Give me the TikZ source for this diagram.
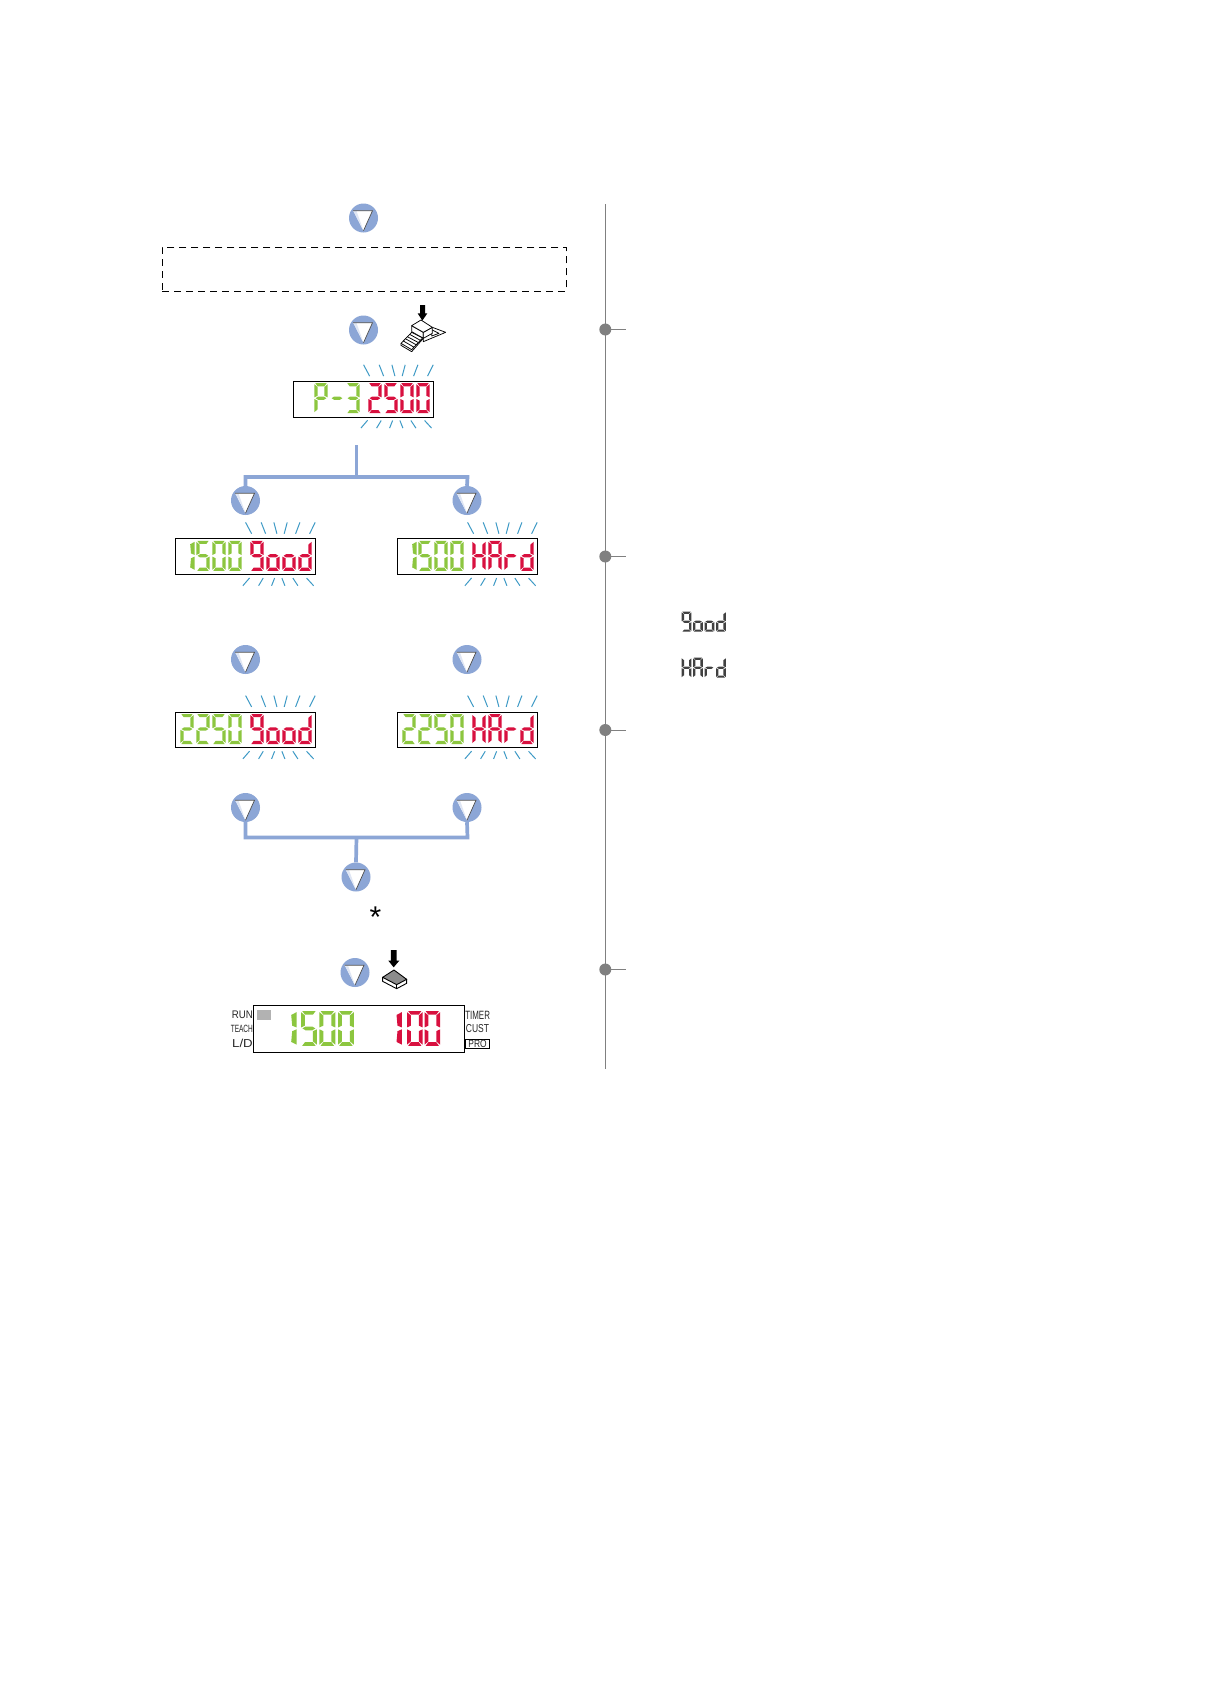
\documentclass[tikz,border=0pt]{standalone}
\usepackage{fontspec}
\setmainfont{Liberation Sans}
\definecolor{mblue}{HTML}{8CA6D6}
\definecolor{lgreen}{HTML}{8CC63F}
\definecolor{lred}{HTML}{D8103F}
\definecolor{rayc}{HTML}{3E9AC6}
\definecolor{vgray}{HTML}{808080}
\tikzset{
 sga/.style={insert path={(1,0)--(12,0)--(9.8,3.1)--(3.2,3.1)--cycle}},
 sgd/.style={insert path={(1,30)--(12,30)--(9.8,26.9)--(3.2,26.9)--cycle}},
 sgf/.style={insert path={(0,1)--(3.2,3.8)--(3.2,12.6)--(0,14.2)--cycle}},
 sge/.style={insert path={(0,15.8)--(3.2,17.4)--(3.2,26.2)--(0,29)--cycle}},
 sgb/.style={insert path={(13,1)--(9.8,3.8)--(9.8,12.6)--(13,14.2)--cycle}},
 sgc/.style={insert path={(13,15.8)--(9.8,17.4)--(9.8,26.2)--(13,29)--cycle}},
 sgg/.style={insert path={(1.2,15)--(3.7,13.4)--(9.3,13.4)--(11.8,15)--(9.3,16.6)--(3.7,16.6)--cycle}},
 sgp/.style={insert path={(14,1)--(9.6,3.4)--(10.4,12.6)--(14,14.2)--cycle}},
 sgq/.style={insert path={(14,15.8)--(10.4,17.4)--(9.6,26.6)--(14,29)--cycle}},
 sgn/.style={},
 marker/.style={circle,fill=mblue,minimum size=29pt,inner sep=0pt},
 lcdbox/.style={draw=black,line width=1pt,rectangle,inner sep=0pt,anchor=north west,fill=white},
 ray/.style={draw=rayc,line width=1pt},
 link/.style={draw=mblue,line width=3.7pt,line join=miter},
 lbl/.style={inner sep=0pt,text=black!85},
 pics/tri/.style={code={
   \fill[white] (-10.3,-7.3)--(9,-7.3)--(0,12.7)--cycle;
   \fill[mblue!28] (-10.3,-7.3)--(-7,-7)--(0,12.7)--cycle;
   \draw[black!70,line width=.7pt] (-10.3,-7.3)--(9,-7.3)--(0,12.7);
 }}
}
\expandafter\def\csname ch0\endcsname{a,b,c,d,e,f}
\expandafter\def\csname ch1\endcsname{p,q}
\expandafter\def\csname ch2\endcsname{a,b,d,e,g}
\expandafter\def\csname ch3\endcsname{a,b,c,d,g}
\expandafter\def\csname ch5\endcsname{a,c,d,f,g}
\expandafter\def\csname ch9\endcsname{a,b,c,d,f,g}
\expandafter\def\csname chP\endcsname{a,b,e,f,g}
\expandafter\def\csname ch-\endcsname{g}
\expandafter\def\csname chH\endcsname{b,c,e,f,g}
\expandafter\def\csname chA\endcsname{a,b,c,e,f,g}
\expandafter\def\csname chr\endcsname{e,g}
\expandafter\def\csname chd\endcsname{b,c,d,e,g}
\expandafter\def\csname cho\endcsname{c,d,e,g}
\expandafter\def\csname chx\endcsname{n}
\newcommand\dgt[6]{%
 \begin{scope}[shift={(#1,#2)},xscale=#3,yscale=#4]
  \edef\seglist{\csname ch#5\endcsname}
  \foreach \s in \seglist {\fill[#6,sg\s];}
 \end{scope}}
\newcommand\rays[2]{%
 \begin{scope}[shift={(#1,#2)}]
 \path[ray] (70.7,-16)--(76.7,-4.7) (86.3,-16)--(90.7,-4.7) (99,-16)--(102,-4.7)
  (112.3,-16)--(109.3,-4.7) (125,-16)--(120.7,-4.7) (140.3,-16)--(134.7,-4.7)
  (74.7,39.5)--(68,47.3) (88.3,39.7)--(83.7,47.3) (99.7,39.7)--(96.7,47.3)
  (107,39.7)--(110,47.3) (118,39.7)--(123,47.3) (131.7,39.7)--(138.7,47.3);
 \end{scope}}
% name, left, top, 8 chars
\newcommand\lcd[3]{\def\lcdn{#1}\def\lcdx{#2}\def\lcdy{#3}\lcdrest}
\newcommand\lcdrest[8]{%
 \node[lcdbox,minimum width=140.4pt,minimum height=35.8pt] (\lcdn) at (\lcdx,\lcdy) {};
 \rays{\lcdx}{\lcdy}
 \begin{scope}[shift={(\lcdx,\lcdy)}]
 \dgt{5.4}{2.4}{1.03}{1}{#1}{lgreen}
 \dgt{21.4}{2.4}{1.03}{1}{#2}{lgreen}
 \dgt{37.4}{2.4}{1.03}{1}{#3}{lgreen}
 \dgt{53.4}{2.4}{1.03}{1}{#4}{lgreen}
 \dgt{75.4}{2.4}{1.03}{1}{#5}{lred}
 \dgt{91.4}{2.4}{1.03}{1}{#6}{lred}
 \dgt{107.4}{2.4}{1.03}{1}{#7}{lred}
 \dgt{123.4}{2.4}{1.03}{1}{#8}{lred}
 \end{scope}}
\begin{document}
\begin{tikzpicture}[x=1pt,y=-1pt]
\useasboundingbox (0,0) rectangle (1230,1682);
\fill[white] (0,0) rectangle (1230,1682);
% markers
\foreach \n/\x/\y in {m1/363.5/218,m2/363.5/330,m3/245.5/500.5,m4/467/500.5,m5/245.5/659.5,m6/467/659.5,m7/245.5/807.5,m8/467/807.5,m9/356/877,m10/355/972.5}{
  \node[marker] (\n) at (\x,\y) {};
}
% dashed box
\node[draw=black,dash pattern=on 7pt off 5pt,line width=.9pt,rectangle,minimum width=404pt,minimum height=44pt,inner sep=0pt,anchor=north west] (dbox) at (161.8,246.8) {};
% displays
\lcd{d1}{292.9}{380.8}{x}{P}{-}{3}{2}{5}{0}{0}
\lcd{d2}{174.9}{538.4}{1}{5}{0}{0}{9}{o}{o}{d}
\lcd{d3}{396.9}{538.4}{1}{5}{0}{0}{H}{A}{r}{d}
\lcd{d4}{174.9}{711.6}{2}{2}{5}{0}{9}{o}{o}{d}
\lcd{d5}{396.9}{711.6}{2}{2}{5}{0}{H}{A}{r}{d}
% connectors
\coordinate (s1) at (356.5,445);
\coordinate (j1) at (356.5,477);
\coordinate (jl) at (245.5,477);
\coordinate (jr) at (467.5,477);
\coordinate (bl) at (245.5,837.5);
\coordinate (br) at (467.5,837.5);
\coordinate (bc) at (356.5,837.5);
\draw[link] (s1)--(j1);
\draw[link] (m3.north)--(jl)--(jr)--(m4.north);
\draw[link] (m7.south)--(bl)--(br)--(m8.south);
\draw[link] (bc)--(m9.north);
% triangles
\foreach \n in {m1,m2,m3,m4,m5,m6,m7,m8,m9,m10}{ \pic at (\n) {tri}; }
% asterisk
\node[inner sep=0pt,font=\fontsize{30}{30}\selectfont] (ast) at (375.5,917.5) {*};
% pedal icon
\begin{scope}[shift={(395,300)},x=.3333pt,y=-.3333pt,line width=.75pt,line join=round]
 \fill[black] (75,15)--(90,15)--(90,40)--(97,40)--(82,62)--(68,40)--(75,40)--cycle;
 \draw[fill=white] (112,82)--(152,97)--(85,125)--(85,97)--cycle;
 \draw[fill=white] (110,89)--(132,100)--(110,108)--cycle;
 \draw[fill=white] (50,77)--(50,95)--(85,115)--(85,97)--cycle;
 \draw[fill=white] (85,97)--(112,82)--(112,100)--(85,115)--cycle;
 \draw[fill=white] (50,77)--(78,60)--(112,82)--(85,97)--cycle;
 \draw[fill=white] (50,97)--(18,130)--(18,136)--(50,155)--(85,115)--cycle;
 \draw (18,130)--(50,149)--(82,115)
       (25,123)--(56,141) (31,116)--(63,134) (37,110)--(69,127) (44,103)--(76,121);
\end{scope}
% button icon
\begin{scope}[shift={(220,940)},x=.3333pt,y=-.3333pt,line width=.9pt,line join=round]
 \fill[black] (513,30)--(530,30)--(530,62)--(538,62)--(521,82)--(505,62)--(513,62)--cycle;
 \draw[fill=white] (488,112)--(488,124)--(530,146)--(560,130)--(560,118)--cycle;
 \draw[fill=black!45] (488,112)--(522,90)--(560,118)--(530,134)--cycle;
 \draw (530,134)--(530,146);
\end{scope}
% large display
\node[lcdbox,minimum width=211pt,minimum height=47pt] (d6) at (253.3,1005.3) {};
\fill[black!30] (257,1009.5) rectangle (271,1020);
\foreach \x/\c in {279.5/1,301/5,319.4/0,338/0}{\dgt{\x}{1011}{1.22}{1.16}{\c}{lgreen}}
\foreach \x/\c in {385/1,407/0,424.5/0}{\dgt{\x}{1011}{1.2}{1.16}{\c}{lred}}
\node[lbl,xscale=.88,font=\fontsize{11}{11}\selectfont,anchor=east] (run) at (253,1015) {RUN};
\node[lbl,xscale=.62,font=\fontsize{10.5}{11}\selectfont,anchor=east] (teach) at (253,1029) {TEACH};
\node[lbl,xscale=1.15,font=\fontsize{11.5}{12}\selectfont,anchor=east] (ld) at (253,1043.5) {L/D};
\node[lbl,xscale=.66,font=\fontsize{12}{12}\selectfont,anchor=west] (timer) at (465.2,1015) {TIMER};
\node[lbl,xscale=.74,font=\fontsize{11.5}{12}\selectfont,anchor=west] (cust) at (465.8,1029) {CUST};
\node[draw=black,line width=.7pt,rectangle,minimum width=24.3pt,minimum height=9pt,inner sep=0pt,anchor=north west] (probox) at (465,1039.3) {};
\node[lbl,xscale=.8,font=\fontsize{10.5}{10.5}\selectfont] (pro) at (probox.center) {PRO};
% right side
\draw[vgray,line width=.8pt] (605.3,204)--(605.3,1069);
\foreach \y in {329.5,556.5,730,969.5}{
 \fill[vgray] (605.3,\y) circle (6);
 \draw[vgray,line width=.7pt] (605.3,\y)--(626,\y);
}
% legend glyphs
\foreach \x/\c in {681.7/9,693/o,704.5/o,716/d}{\dgt{\x}{611.7}{.75}{.667}{\c}{black!75}}
\foreach \x/\c in {681.7/H,693/A,704.5/r,716/d}{\dgt{\x}{657.7}{.75}{.667}{\c}{black!75}}
\end{tikzpicture}
\end{document}
